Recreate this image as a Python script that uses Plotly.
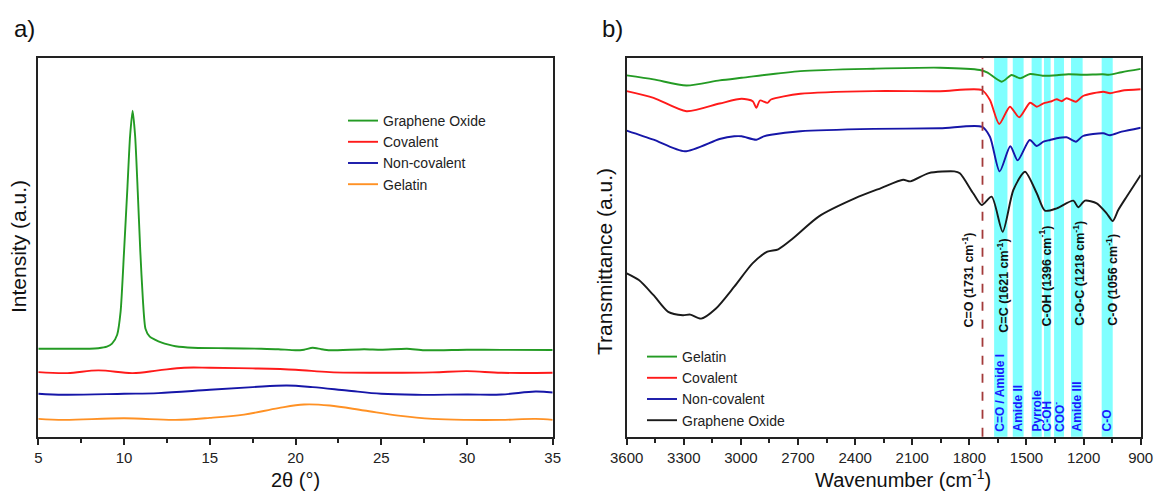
import plotly.graph_objects as go

# ---------------- Panel a) XRD ----------------
xrd_go_x = [5, 6, 7, 8, 8.5, 9, 9.3, 9.6, 9.8, 10.0, 10.2, 10.35, 10.5, 10.65, 10.8, 10.95, 11.1, 11.25,
            11.5, 11.8, 12.2, 12.6, 13, 14, 16, 18, 19, 20, 20.5, 21, 21.5, 22, 24, 25, 26.5, 27.5, 30, 32, 35]
xrd_go_y = [88, 88, 88, 88, 88.5, 90, 93, 102, 125, 185, 250, 300, 326, 300, 245, 185, 137, 108,
            100, 97, 94, 92, 90.5, 89, 88.5, 88, 87.5, 86.4, 87, 89, 87.5, 86.4, 87.5, 87, 88, 86.5, 87, 86.8, 86.7]

xrd_cov_x = [5, 6.7, 8.5, 10.5, 12, 13.5, 15, 17.5, 20, 22, 25, 28, 30, 32, 35]
xrd_cov_y = [64.6, 63.6, 66.3, 63.6, 66.3, 69.0, 69.0, 68.3, 67.0, 64.6, 63.9, 64.3, 65.6, 63.9, 63.9]

xrd_non_x = [5, 6.5, 10, 12, 15, 17.5, 19.5, 21, 23, 25, 27, 30, 32, 34, 35]
xrd_non_y = [42.9, 41.9, 42.9, 43.6, 46.9, 49.6, 51.2, 49.6, 46.2, 42.9, 41.9, 42.2, 42.2, 45.2, 44.2]

xrd_gel_x = [5, 6.5, 10, 13, 15, 17, 19, 20.5, 22, 24, 26, 28, 30, 32, 34, 35]
xrd_gel_y = [17.8, 16.8, 18.4, 16.8, 18.8, 22.1, 28.6, 32.2, 31.2, 26.2, 21.1, 17.8, 16.8, 16.8, 17.8, 16.8]

# ---------------- Panel b) FTIR ----------------
ft_gel_x = [3600, 3459, 3286, 3112, 2996, 2688, 2302, 1954, 1744, 1704, 1630, 1578, 1534, 1481, 1415, 1340, 1280,
            1200, 1100, 1068, 1000, 900]
ft_gel_y = [361.3, 357.3, 351.2, 356.3, 358.9, 365.6, 368.0, 369.0, 366.7, 364.0, 355.0, 361.7, 358.4, 362.7, 361.0,
            361.5, 362.5, 362.0, 362.5, 362.0, 364.5, 367.8]

ft_cov_x = [3600, 3459, 3286, 3112, 2996, 2938, 2919, 2900, 2861, 2842, 2688, 2302, 1954, 1735, 1692, 1643, 1587,
            1538, 1481, 1446, 1411, 1376, 1341, 1315, 1289, 1240, 1203, 1097, 1061, 1000, 900]
ft_cov_y = [345.6, 338.9, 325.5, 333.2, 337.9, 335.5, 328.8, 336.2, 333.8, 337.2, 342.9, 345.6, 345.5, 346.7, 336.7,
            312.7, 330.0, 319.4, 334.0, 330.0, 333.4, 335.0, 337.4, 335.5, 338.4, 335.0, 340.7, 345.0, 343.5, 346.0, 347.4]

ft_non_x = [3600, 3459, 3295, 3112, 3035, 2996, 2919, 2880, 2842, 2688, 2302, 1954, 1735, 1692, 1641, 1585, 1546,
            1483, 1446, 1411, 1376, 1341, 1289, 1240, 1203, 1097, 1061, 1000, 900]
ft_non_y = [306.1, 297.0, 285.4, 297.7, 300.4, 300.4, 297.0, 300.4, 302.0, 305.4, 307.8, 308.4, 310.0, 300.0, 265.3,
            290.4, 276.3, 296.7, 290.7, 295.0, 296.7, 298.4, 299.4, 295.0, 300.7, 303.4, 301.5, 305.0, 309.0]

ft_go_x = [3600, 3536, 3459, 3382, 3305, 3266, 3209, 3131, 3035, 2939, 2861, 2804, 2726, 2592, 2399, 2264, 2148,
           2110, 2013, 1879, 1850, 1780, 1735, 1683, 1625, 1569, 1508, 1446, 1403, 1341, 1254, 1228, 1193, 1131,
           1079, 1047, 1018, 974, 900]
ft_go_y = [163.3, 156.6, 141.5, 124.8, 121.5, 122.1, 118.1, 128.2, 150.0, 173.3, 185.0, 187.4, 198.4, 220.1, 238.5,
           248.6, 256.9, 255.3, 263.6, 265.3, 263.4, 243.4, 231.7, 240.0, 205.0, 246.7, 265.0, 243.4, 226.0, 228.4,
           236.0, 229.4, 236.0, 233.4, 223.4, 215.7, 226.7, 240.0, 261.7]

band_lo = [1600, 1515, 1420, 1373, 1303, 1205, 1047]
band_hi = [1670, 1572, 1473, 1408, 1355, 1266, 1105]
carbonyl_line = 1731

peak_labels = ["C=O (1731 cm<sup>-1</sup>)", "C=C (1621 cm<sup>-1</sup>)", "C-OH (1396 cm<sup>-1</sup>)",
               "C-O-C (1218 cm<sup>-1</sup>)", "C-O (1056 cm<sup>-1</sup>)"]
peak_label_x = [1812, 1625, 1403, 1228, 1052]
peak_label_y = [106.7, 101.7, 108.7, 108.7, 108.7]

band_labels = ["C=O / Amide I", "Amide II", "Pyrrole", "C-OH", "COO<sup>-</sup>", "Amide III", "C-O"]
band_label_x = [1639, 1543, 1446, 1391, 1333, 1236, 1078]

FONT = "Liberation Sans, Arial, sans-serif"
GREEN, RED, BLUE, ORANGE, BLACK = "#249b24", "#ff1a1a", "#1616a8", "#ff9124", "#1a1a1a"

fig = go.Figure()

lw = 1.9
fig.add_trace(go.Scatter(x=xrd_go_x, y=xrd_go_y, name="Graphene Oxide", mode="lines",
                         line=dict(color=GREEN, width=lw, shape="spline", smoothing=0.6), xaxis="x", yaxis="y", legend="legend"))
fig.add_trace(go.Scatter(x=xrd_cov_x, y=xrd_cov_y, name="Covalent", mode="lines",
                         line=dict(color=RED, width=lw, shape="spline"), xaxis="x", yaxis="y", legend="legend"))
fig.add_trace(go.Scatter(x=xrd_non_x, y=xrd_non_y, name="Non-covalent", mode="lines",
                         line=dict(color=BLUE, width=lw, shape="spline"), xaxis="x", yaxis="y", legend="legend"))
fig.add_trace(go.Scatter(x=xrd_gel_x, y=xrd_gel_y, name="Gelatin", mode="lines",
                         line=dict(color=ORANGE, width=lw, shape="spline"), xaxis="x", yaxis="y", legend="legend"))

fig.add_trace(go.Scatter(x=ft_gel_x, y=ft_gel_y, name="Gelatin", mode="lines",
                         line=dict(color=GREEN, width=lw, shape="spline", smoothing=0.7), xaxis="x2", yaxis="y2", legend="legend2"))
fig.add_trace(go.Scatter(x=ft_cov_x, y=ft_cov_y, name="Covalent", mode="lines",
                         line=dict(color=RED, width=lw, shape="spline", smoothing=0.7), xaxis="x2", yaxis="y2", legend="legend2"))
fig.add_trace(go.Scatter(x=ft_non_x, y=ft_non_y, name="Non-covalent", mode="lines",
                         line=dict(color=BLUE, width=lw, shape="spline", smoothing=0.7), xaxis="x2", yaxis="y2", legend="legend2"))
fig.add_trace(go.Scatter(x=ft_go_x, y=ft_go_y, name="Graphene Oxide", mode="lines",
                         line=dict(color=BLACK, width=lw, shape="spline", smoothing=0.7), xaxis="x2", yaxis="y2", legend="legend2"))

shapes = []
for lo, hi in zip(band_lo, band_hi):
    shapes.append(dict(type="rect", xref="x2", yref="y2 domain", x0=lo, x1=hi, y0=0, y1=1,
                       fillcolor="#80ffff", line=dict(width=0), layer="below"))
shapes.append(dict(type="line", xref="x2", yref="y2 domain", x0=carbonyl_line, x1=carbonyl_line, y0=0, y1=1,
                   line=dict(color="#a33a3a", width=1.8, dash="dash")))

annotations = []
for t, x, y in zip(peak_labels, peak_label_x, peak_label_y):
    annotations.append(dict(text="<b>" + t + "</b>", x=x, y=y, xref="x2", yref="y2", textangle=-90,
                            showarrow=False, xanchor="center", yanchor="bottom",
                            font=dict(family=FONT, size=12.5, color="#111111")))
for t, x in zip(band_labels, band_label_x):
    annotations.append(dict(text="<b>" + t + "</b>", x=x, y=3, xref="x2", yref="y2", textangle=-90,
                            showarrow=False, xanchor="center", yanchor="bottom",
                            font=dict(family=FONT, size=12, color="#1a1aff")))

W, H = 1156, 495
def px(x): return x / W
def py(y): return 1 - y / H

annotations += [
    dict(text="a)", x=px(12), y=py(28), xref="paper", yref="paper", showarrow=False, xanchor="left", yanchor="middle",
         font=dict(family=FONT, size=24, color="#111")),
    dict(text="b)", x=px(600), y=py(28), xref="paper", yref="paper", showarrow=False, xanchor="left", yanchor="middle",
         font=dict(family=FONT, size=24, color="#111")),
    dict(text="Intensity (a.u.)", x=px(18), y=py(247), xref="paper", yref="paper", showarrow=False, textangle=-90,
         xanchor="center", yanchor="middle", font=dict(family=FONT, size=21, color="#111")),
    dict(text="Transmittance (a.u.)", x=px(604), y=py(262), xref="paper", yref="paper", showarrow=False, textangle=-90,
         xanchor="center", yanchor="middle", font=dict(family=FONT, size=21, color="#111")),
    dict(text="2θ (°)", x=px(295), y=py(480), xref="paper", yref="paper", showarrow=False,
         xanchor="center", yanchor="middle", font=dict(family=FONT, size=20, color="#111")),
    dict(text="Wavenumber (cm<sup>-1</sup>)", x=px(903), y=py(478), xref="paper", yref="paper", showarrow=False,
         xanchor="center", yanchor="middle", font=dict(family=FONT, size=20, color="#111")),
]

ydom = [py(436.7), py(57.7)]
axis_common = dict(showline=True, linecolor="#222", linewidth=2, mirror=True, showgrid=False, zeroline=False,
                   ticks="outside", ticklen=6, tickwidth=1.5, tickcolor="#222", automargin=False,
                   tickfont=dict(family=FONT, size=15, color="#222"))
yaxis_common = dict(showline=True, linecolor="#222", linewidth=2, mirror=True, showgrid=False, zeroline=False,
                    showticklabels=False, ticks="", range=[0, 379], automargin=False)

fig.update_layout(
    width=W, height=H, margin=dict(l=0, r=0, t=0, b=0, autoexpand=False),
    paper_bgcolor="white", plot_bgcolor="white",
    font=dict(family=FONT),
    xaxis=dict(domain=[px(38.3), px(552.7)], range=[5, 35], dtick=5, tick0=5,
               minor=dict(ticks="outside", ticklen=4, tickwidth=1.5, tickcolor="#222", dtick=2.5), anchor="y", **axis_common),
    yaxis=dict(domain=ydom, anchor="x", **yaxis_common),
    xaxis2=dict(domain=[px(626.7), px(1140.7)], range=[3600, 900], dtick=300, tick0=900,
                minor=dict(ticks="outside", ticklen=4, tickwidth=1.5, tickcolor="#222", dtick=150), anchor="y2", **axis_common),
    yaxis2=dict(domain=ydom, anchor="x2", **yaxis_common),
    legend=dict(x=px(343), y=py(105), xanchor="left", yanchor="top", bgcolor="rgba(0,0,0,0)",
                font=dict(family=FONT, size=14, color="#222"), tracegroupgap=0),
    legend2=dict(x=px(642), y=py(341), xanchor="left", yanchor="top", bgcolor="rgba(0,0,0,0)",
                 font=dict(family=FONT, size=14, color="#222"), tracegroupgap=0),
    shapes=shapes, annotations=annotations, showlegend=True,
)

fig.write_html("out.html")
